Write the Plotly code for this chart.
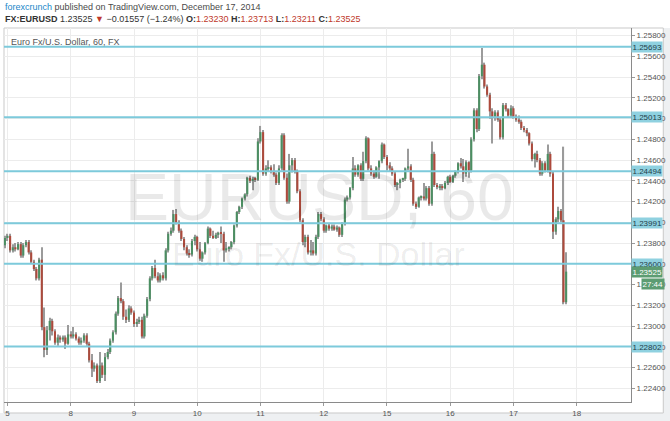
import plotly.graph_objects as go

# EUR/USD hourly candles, Dec 4 23:00 -> Dec 17 20:00 (index 0..213)
opens = [
    1.2378, 1.2385, 1.2387, 1.2373, 1.2376, 1.2374, 1.2379, 1.2368, 1.2378, 1.2381, 1.2371, 1.2362,
    1.2355, 1.2346, 1.2364, 1.2299, 1.2277, 1.2296, 1.2305, 1.2295, 1.2284, 1.2289, 1.2287, 1.2289,
    1.2283, 1.2292, 1.2290, 1.2292, 1.2288, 1.2284, 1.2286, 1.2291, 1.2283, 1.2267, 1.2259, 1.2262,
    1.2247, 1.2262, 1.2253, 1.2270, 1.2275, 1.2286, 1.2294, 1.2312, 1.2327, 1.2324, 1.2309, 1.2306,
    1.2317, 1.2313, 1.2302, 1.2304, 1.2306, 1.2290, 1.2310, 1.2326, 1.2346, 1.2356, 1.2348, 1.2344,
    1.2349, 1.2346, 1.2373, 1.2389, 1.2392, 1.2408, 1.2400, 1.2392, 1.2384, 1.2376, 1.2370, 1.2369,
    1.2382, 1.2386, 1.2374, 1.2365, 1.2371, 1.2380, 1.2394, 1.2387, 1.2385, 1.2388, 1.2390, 1.2389,
    1.2373, 1.2375, 1.2376, 1.2381, 1.2397, 1.2410, 1.2415, 1.2423, 1.2427, 1.2443, 1.2440, 1.2442,
    1.2441, 1.2478, 1.2487, 1.2447, 1.2452, 1.2453, 1.2449, 1.2446, 1.2438, 1.2452, 1.2484, 1.2443,
    1.2420, 1.2455, 1.2460, 1.2449, 1.2430, 1.2402, 1.2381, 1.2386, 1.2371, 1.2373, 1.2370, 1.2386,
    1.2408, 1.2403, 1.2392, 1.2397, 1.2394, 1.2396, 1.2393, 1.2395, 1.2388, 1.2399, 1.2422, 1.2424,
    1.2433, 1.2452, 1.2446, 1.2455, 1.2442, 1.2459, 1.2481, 1.2452, 1.2447, 1.2444, 1.2453, 1.2459,
    1.2475, 1.2463, 1.2455, 1.2452, 1.2447, 1.2436, 1.2438, 1.2441, 1.2442, 1.2452, 1.2454, 1.2441,
    1.2418, 1.2415, 1.2424, 1.2425, 1.2423, 1.2433, 1.2418, 1.2466, 1.2436, 1.2434, 1.2435, 1.2433,
    1.2438, 1.2444, 1.2439, 1.2445, 1.2449, 1.2457, 1.2454, 1.2447, 1.2458, 1.2450, 1.2480, 1.2508,
    1.2490, 1.2541, 1.2552, 1.2531, 1.2523, 1.2507, 1.2502, 1.2506, 1.2499, 1.2482, 1.2513, 1.2509,
    1.2503, 1.2510, 1.2502, 1.2499, 1.2497, 1.2491, 1.2489, 1.2486, 1.2476, 1.2461, 1.2466, 1.2460,
    1.2447, 1.2457, 1.2450, 1.2466, 1.2447, 1.2391, 1.2403, 1.2411, 1.2402, 1.23230,
]
highs = [
    1.2387, 1.2389, 1.2389, 1.2379, 1.2380, 1.2381, 1.2381, 1.2380, 1.2383, 1.2383, 1.2373, 1.2364,
    1.2357, 1.2366, 1.2376, 1.2318, 1.2300, 1.2308, 1.2307, 1.2297, 1.2292, 1.2291, 1.2291, 1.2291,
    1.2301, 1.2295, 1.2299, 1.2294, 1.2290, 1.2289, 1.2293, 1.2293, 1.2285, 1.2273, 1.2265, 1.2264,
    1.2275, 1.2265, 1.2274, 1.2278, 1.2288, 1.2296, 1.2314, 1.2329, 1.2342, 1.2326, 1.2316, 1.2320,
    1.2319, 1.2315, 1.2307, 1.2309, 1.2309, 1.2312, 1.2328, 1.2348, 1.2358, 1.2364, 1.2352, 1.2351,
    1.2352, 1.2375, 1.2391, 1.2395, 1.2412, 1.2413, 1.2402, 1.2394, 1.2386, 1.2378, 1.2374, 1.2384,
    1.2388, 1.2387, 1.2381, 1.2372, 1.2381, 1.2396, 1.2395, 1.2392, 1.2390, 1.2391, 1.2396, 1.2391,
    1.2381, 1.2377, 1.2382, 1.2398, 1.2411, 1.2416, 1.2424, 1.2428, 1.2444, 1.2445, 1.2444, 1.2444,
    1.2481, 1.2493, 1.2489, 1.2455, 1.2460, 1.2455, 1.2456, 1.2448, 1.2455, 1.2486, 1.2486, 1.2447,
    1.2466, 1.2462, 1.2462, 1.2451, 1.2432, 1.2404, 1.2388, 1.2388, 1.2383, 1.2381, 1.2388, 1.2410,
    1.2410, 1.2405, 1.2398, 1.2399, 1.2398, 1.2398, 1.2397, 1.2396, 1.2400, 1.2424, 1.2426, 1.2434,
    1.2463, 1.2455, 1.2456, 1.2457, 1.2468, 1.2483, 1.2482, 1.2455, 1.2450, 1.2454, 1.2460, 1.2477,
    1.2476, 1.2465, 1.2458, 1.2454, 1.2449, 1.2439, 1.2442, 1.2443, 1.2453, 1.2471, 1.2456, 1.2443,
    1.2420, 1.2425, 1.2426, 1.2438, 1.2435, 1.2435, 1.2478, 1.2468, 1.2438, 1.2437, 1.2437, 1.2440,
    1.2445, 1.2446, 1.2446, 1.2450, 1.2458, 1.2462, 1.2461, 1.2460, 1.2459, 1.2482, 1.2510, 1.2510,
    1.2543, 1.2568, 1.2554, 1.2533, 1.2525, 1.2510, 1.2508, 1.2508, 1.2501, 1.2515, 1.2515, 1.2510,
    1.2513, 1.2512, 1.2504, 1.2503, 1.2499, 1.2493, 1.2491, 1.2487, 1.2478, 1.2467, 1.2469, 1.2462,
    1.2459, 1.2459, 1.2475, 1.2468, 1.2449, 1.2405, 1.2415, 1.2413, 1.2473, 1.23713,
]
lows = [
    1.2375, 1.2382, 1.2371, 1.2371, 1.2372, 1.2373, 1.2366, 1.2366, 1.2376, 1.2369, 1.2360, 1.2353,
    1.2344, 1.2344, 1.2296, 1.2270, 1.2272, 1.2286, 1.2291, 1.2282, 1.2281, 1.2284, 1.2285, 1.2278,
    1.2282, 1.2288, 1.2288, 1.2286, 1.2282, 1.2282, 1.2284, 1.2281, 1.2265, 1.2251, 1.2256, 1.2245,
    1.2245, 1.2250, 1.2247, 1.2268, 1.2273, 1.2284, 1.2292, 1.2310, 1.2322, 1.2306, 1.2303, 1.2304,
    1.2311, 1.2299, 1.2299, 1.2302, 1.2288, 1.2288, 1.2308, 1.2324, 1.2344, 1.2346, 1.2342, 1.2342,
    1.2344, 1.2344, 1.2371, 1.2387, 1.2390, 1.2398, 1.2390, 1.2382, 1.2373, 1.2368, 1.2366, 1.2367,
    1.2378, 1.2372, 1.2363, 1.2362, 1.2369, 1.2379, 1.2385, 1.2384, 1.2384, 1.2385, 1.2380, 1.2362,
    1.2371, 1.2372, 1.2374, 1.2379, 1.2395, 1.2408, 1.2413, 1.2421, 1.2425, 1.2438, 1.2431, 1.2439,
    1.2440, 1.2476, 1.2445, 1.2445, 1.2449, 1.2447, 1.2444, 1.2436, 1.2436, 1.2450, 1.2441, 1.2418,
    1.2418, 1.2448, 1.2447, 1.2428, 1.2400, 1.2378, 1.2376, 1.2369, 1.2368, 1.2368, 1.2368, 1.2384,
    1.2401, 1.2390, 1.2390, 1.2392, 1.2392, 1.2392, 1.2391, 1.2386, 1.2386, 1.2397, 1.2420, 1.2422,
    1.2431, 1.2444, 1.2444, 1.2440, 1.2440, 1.2457, 1.2450, 1.2445, 1.2442, 1.2443, 1.2442, 1.2457,
    1.2461, 1.2450, 1.2449, 1.2445, 1.2434, 1.2431, 1.2433, 1.2439, 1.2440, 1.2450, 1.2439, 1.2416,
    1.2413, 1.2414, 1.2421, 1.2421, 1.2421, 1.2416, 1.2416, 1.2434, 1.2432, 1.2431, 1.2431, 1.2432,
    1.2436, 1.2438, 1.2438, 1.2443, 1.2447, 1.2452, 1.2439, 1.2444, 1.2443, 1.2448, 1.2478, 1.2487,
    1.2488, 1.2538, 1.2529, 1.2521, 1.2500, 1.2476, 1.2498, 1.2497, 1.2480, 1.2480, 1.2507, 1.2501,
    1.2501, 1.2500, 1.2497, 1.2495, 1.2489, 1.2487, 1.2483, 1.2474, 1.2459, 1.2453, 1.2458, 1.2445,
    1.2445, 1.2448, 1.2448, 1.2444, 1.2384, 1.2388, 1.2400, 1.2400, 1.2321, 1.23211,
]
closes = [
    1.2385, 1.2387, 1.2373, 1.2376, 1.2374, 1.2379, 1.2368, 1.2378, 1.2381, 1.2371, 1.2362, 1.2355,
    1.2346, 1.2364, 1.2299, 1.2277, 1.2296, 1.2305, 1.2295, 1.2284, 1.2289, 1.2287, 1.2289, 1.2283,
    1.2292, 1.2290, 1.2292, 1.2288, 1.2284, 1.2286, 1.2291, 1.2283, 1.2267, 1.2259, 1.2262, 1.2247,
    1.2262, 1.2253, 1.2270, 1.2275, 1.2286, 1.2294, 1.2312, 1.2327, 1.2324, 1.2309, 1.2306, 1.2317,
    1.2313, 1.2302, 1.2304, 1.2306, 1.2290, 1.2310, 1.2326, 1.2346, 1.2356, 1.2348, 1.2344, 1.2349,
    1.2346, 1.2373, 1.2389, 1.2392, 1.2408, 1.2400, 1.2392, 1.2384, 1.2376, 1.2370, 1.2369, 1.2382,
    1.2386, 1.2374, 1.2365, 1.2371, 1.2380, 1.2394, 1.2387, 1.2385, 1.2388, 1.2390, 1.2389, 1.2373,
    1.2375, 1.2376, 1.2381, 1.2397, 1.2410, 1.2415, 1.2423, 1.2427, 1.2443, 1.2440, 1.2442, 1.2441,
    1.2478, 1.2487, 1.2447, 1.2452, 1.2453, 1.2449, 1.2446, 1.2438, 1.2452, 1.2484, 1.2443, 1.2420,
    1.2455, 1.2460, 1.2449, 1.2430, 1.2402, 1.2381, 1.2386, 1.2371, 1.2373, 1.2370, 1.2386, 1.2408,
    1.2403, 1.2392, 1.2397, 1.2394, 1.2396, 1.2393, 1.2395, 1.2388, 1.2399, 1.2422, 1.2424, 1.2433,
    1.2452, 1.2446, 1.2455, 1.2442, 1.2459, 1.2481, 1.2452, 1.2447, 1.2444, 1.2453, 1.2459, 1.2475,
    1.2463, 1.2455, 1.2452, 1.2447, 1.2436, 1.2438, 1.2441, 1.2442, 1.2452, 1.2454, 1.2441, 1.2418,
    1.2415, 1.2424, 1.2425, 1.2423, 1.2433, 1.2418, 1.2466, 1.2436, 1.2434, 1.2435, 1.2433, 1.2438,
    1.2444, 1.2439, 1.2445, 1.2449, 1.2457, 1.2454, 1.2447, 1.2458, 1.2450, 1.2480, 1.2508, 1.2490,
    1.2541, 1.2552, 1.2531, 1.2523, 1.2507, 1.2502, 1.2506, 1.2499, 1.2482, 1.2513, 1.2509, 1.2503,
    1.2510, 1.2502, 1.2499, 1.2497, 1.2491, 1.2489, 1.2486, 1.2476, 1.2461, 1.2466, 1.2460, 1.2447,
    1.2457, 1.2450, 1.2466, 1.2447, 1.2391, 1.2403, 1.2411, 1.2402, 1.2323, 1.23525,
]

# day labels sit on the 00:00 candle of each day
day_ticks = [1, 25, 49, 73, 97, 121, 145, 169, 193, 217]
day_labels = ['5', '8', '9', '10', '11', '12', '15', '16', '17', '18']

# horizontal support / resistance levels
levels = [1.25693, 1.25013, 1.24494, 1.23991, 1.23600, 1.22802]
last_price = 1.23525

UP = '#4b8f62'
DOWN = '#ad4a3c'
WICK = '#9b9b9b'
LEVEL = '#7dcadb'
FONT = 'Liberation Sans'

idx = list(range(len(closes)))
body_base = [min(o, c) for o, c in zip(opens, closes)]
body_len = [max(abs(c - o), 0.00003) for o, c in zip(opens, closes)]
body_col = [UP if c >= o else DOWN for o, c in zip(opens, closes)]

fig = go.Figure()

# wicks
fig.add_trace(go.Bar(
    x=idx, base=lows, y=[h - l for h, l in zip(highs, lows)],
    width=0.42, marker=dict(color=WICK, line=dict(width=0)),
    hoverinfo='skip'
))
# bodies
fig.add_trace(go.Bar(
    x=idx, base=body_base, y=body_len,
    width=0.78, marker=dict(color=body_col, line=dict(width=0)),
    hoverinfo='skip'
))

shapes = []
for lv in levels:
    shapes.append(dict(type='line', xref='paper', yref='y', x0=0, x1=1, y0=lv, y1=lv,
                       line=dict(color=LEVEL, width=2), layer='above'))
# light grey outer band + frame
shapes.append(dict(type='rect', xref='paper', yref='paper', x0=-0.01, x1=1.08, y0=-0.08, y1=-0.0294,
                   fillcolor='#eef0f2', line=dict(width=0), layer='below'))
shapes.append(dict(type='rect', xref='paper', yref='paper', x0=1.0515, x1=1.08, y0=-0.08, y1=1.0,
                   fillcolor='#eef0f2', line=dict(width=0), layer='below'))
shapes.append(dict(type='rect', xref='paper', yref='paper', x0=0, x1=1.0515, y0=-0.0294, y1=1.0,
                   line=dict(color='#c9c9c9', width=1), layer='below'))

annotations = []
for lv in levels:
    annotations.append(dict(x=1, xref='paper', y=lv, yref='y', xanchor='left', yanchor='middle',
                            text=f'{lv:.5f}', showarrow=False, bgcolor='#8fd1e0', borderpad=0.5,
                            font=dict(size=8, color='#1f3d4a', family=FONT)))
annotations.append(dict(x=1, xref='paper', y=last_price, yref='y', xanchor='left', yanchor='middle',
                        text=f'{last_price:.5f}', showarrow=False, bgcolor='#5c9c72', borderpad=0.5,
                        font=dict(size=8, color='white', family=FONT)))
annotations.append(dict(x=1, xref='paper', y=last_price, yref='y', xanchor='left', yanchor='middle',
                        xshift=10, yshift=-12, text='27:44', showarrow=False, bgcolor='#5c9c72',
                        borderpad=0.5, font=dict(size=8, color='white', family=FONT)))

# watermark
annotations.append(dict(x=0.5026, y=0.548, xref='paper', yref='paper', text='EURUSD, 60', showarrow=False,
                        font=dict(size=66, color='rgba(0,0,0,0.085)', family=FONT)))
annotations.append(dict(x=0.501, y=0.396, xref='paper', yref='paper', text='Euro Fx/U.S. Dollar',
                        showarrow=False, font=dict(size=34, color='rgba(0,0,0,0.085)', family=FONT)))

# header text
annotations.append(dict(x=-0.002, y=1.056, xref='paper', yref='paper', xanchor='left', yanchor='middle',
                        showarrow=False, font=dict(size=9, color='#4a4a4a', family=FONT),
                        text="<span style='color:#2387c9'>forexcrunch</span> published on TradingView.com, December 17, 2014"))
red = "<span style='color:#c0392b'>%s</span>"
annotations.append(dict(x=-0.002, y=1.024, xref='paper', yref='paper', xanchor='left', yanchor='middle',
                        showarrow=False, font=dict(size=9, color='#333333', family=FONT),
                        text="<b>FX:EURUSD</b> 1.23525 " + red % '▼' + " \u22120.01557 (\u22121.24%) "
                             + "<b>O:</b>" + red % '1.23230' + " <b>H:</b>" + red % '1.23713'
                             + " <b>L:</b>" + red % '1.23211' + " <b>C:</b>" + red % '1.23525'))
annotations.append(dict(x=0.008, y=0.962, xref='paper', yref='paper', xanchor='left', yanchor='middle',
                        showarrow=False, font=dict(size=9, color='#555555', family=FONT),
                        text='Euro Fx/U.S. Dollar, 60, FX'))

fig.update_layout(
    width=670, height=421,
    margin=dict(l=4, r=39, t=28, b=19),
    paper_bgcolor='white', plot_bgcolor='white',
    barmode='overlay', showlegend=False, hovermode=False,
    shapes=shapes, annotations=annotations,
    xaxis=dict(range=[-0.33, 237.6], tickvals=day_ticks, ticktext=day_labels,
               showgrid=True, gridcolor='#ececec', gridwidth=1, zeroline=False,
               showline=True, linecolor='#8a8a8a', linewidth=1,
               ticks='outside', ticklen=3, tickcolor='#9a9a9a',
               tickfont=dict(size=8, color='#555555', family=FONT)),
    yaxis=dict(range=[1.22268, 1.25874], side='right', dtick=0.002, tick0=1.224,
               tickformat='.5f', showgrid=True, gridcolor='#ececec', gridwidth=1, zeroline=False,
               showline=True, linecolor='#8a8a8a', linewidth=1,
               ticks='outside', ticklen=3, tickcolor='#9a9a9a',
               tickfont=dict(size=8, color='#555555', family=FONT)),
)

# drop the default page margin so the figure sits at the window's top-left corner
fig.write_html("out.html", config={'displayModeBar': False},
               post_script="document.body.style.margin='0';")
